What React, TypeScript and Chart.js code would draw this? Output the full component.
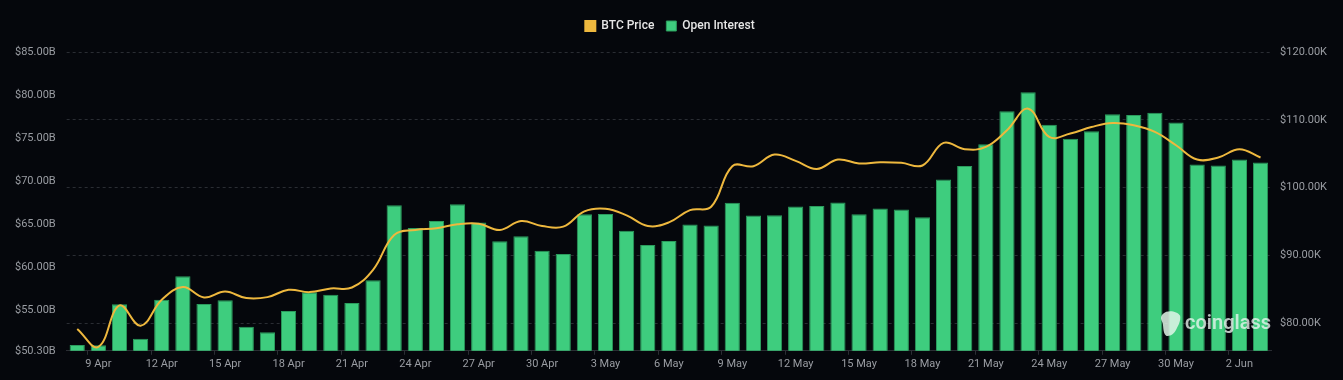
import React, { useEffect, useRef } from "react";
import { Chart, registerables } from "chart.js";

Chart.register(...registerables);

const dates = [
  "8 Apr", "9 Apr", "10 Apr", "11 Apr", "12 Apr", "13 Apr", "14 Apr", "15 Apr", "16 Apr", "17 Apr",
  "18 Apr", "19 Apr", "20 Apr", "21 Apr", "22 Apr", "23 Apr", "24 Apr", "25 Apr", "26 Apr", "27 Apr",
  "28 Apr", "29 Apr", "30 Apr", "1 May", "2 May", "3 May", "4 May", "5 May", "6 May", "7 May",
  "8 May", "9 May", "10 May", "11 May", "12 May", "13 May", "14 May", "15 May", "16 May", "17 May",
  "18 May", "19 May", "20 May", "21 May", "22 May", "23 May", "24 May", "25 May", "26 May", "27 May",
  "28 May", "29 May", "30 May", "31 May", "1 Jun", "2 Jun", "3 Jun",
];

// Open Interest, billions USD
const openInterest = [
  50.96, 50.95, 55.7, 51.7, 56.24, 58.95, 55.74, 56.17, 53.08, 52.46,
  54.93, 57.1, 56.82, 55.86, 58.49, 67.21, 64.55, 65.36, 67.33, 65.21,
  63.01, 63.59, 61.92, 61.53, 66.17, 66.2, 64.24, 62.58, 63.04, 64.97,
  64.86, 67.48, 66.02, 66.05, 67.06, 67.13, 67.52, 66.17, 66.83, 66.71,
  65.82, 70.19, 71.77, 74.28, 78.11, 80.34, 76.56, 74.94, 75.79, 77.76,
  77.68, 77.95, 76.8, 71.93, 71.81, 72.51, 72.16,
];

// BTC price, thousands USD
const btcPrice = [
  79.12, 76.47, 82.59, 79.6, 83.43, 85.3, 83.77, 84.65, 83.68, 83.82,
  84.9, 84.56, 85.1, 85.24, 87.84, 93.0, 93.73, 93.98, 94.57, 94.66,
  93.73, 95.06, 94.32, 94.22, 96.48, 96.87, 95.89, 94.32, 94.86, 96.67,
  97.16, 103.15, 103.15, 104.87, 103.93, 102.75, 104.13, 103.55, 103.74, 103.64,
  103.25, 106.58, 105.65, 105.99, 108.45, 111.64, 107.46, 107.96, 108.93, 109.52,
  109.18, 108.2, 106.24, 104.13, 104.43, 105.65, 104.43,
];

const oiAxis = { min: 50.3, max: 85, step: 5 };
const priceAxis = { min: 75.9, max: 120, step: 10 };

const BG = "#05070c";
const GREEN = "#3ecd7e";
const GREEN_BORDER = "#2b9c5d";
const YELLOW = "#eeb83e";
const GRID = "#2a2d33";
const TICK = "#9a9da3";
const FONT = "Roboto, 'Noto Sans', sans-serif";

const legendSpace = {
  id: "legendSpace",
  beforeInit(chart: any) {
    const legend = chart.legend;
    if (!legend) return;
    const origFit = legend.fit;
    legend.fit = function () {
      origFit.call(this);
      this.height += 10;
    };
  },
};

const watermark = {
  id: "watermark",
  afterDraw(chart: any) {
    const { ctx, chartArea } = chart;
    ctx.save();
    const tx = chartArea.right;
    const ty = chartArea.bottom - 27;
    ctx.font = `600 20px ${FONT}`;
    ctx.fillStyle = "rgba(235,245,240,0.78)";
    ctx.textAlign = "right";
    ctx.textBaseline = "middle";
    ctx.fillText("coinglass", tx, ty);
    const w = ctx.measureText("coinglass").width;
    const lx = tx - w - 14;
    const ly = ty;
    ctx.beginPath();
    ctx.moveTo(lx - 8, ly - 10);
    ctx.bezierCurveTo(lx - 4, ly - 14, lx + 6, ly - 13, lx + 9, ly - 8);
    ctx.bezierCurveTo(lx + 10, ly - 3, lx + 7, ly + 2, lx + 5, ly + 6);
    ctx.bezierCurveTo(lx + 3, ly + 10, lx - 1, ly + 13, lx - 5, ly + 12);
    ctx.bezierCurveTo(lx - 9, ly + 8, lx - 7, ly + 2, lx - 9, ly - 2);
    ctx.bezierCurveTo(lx - 11, ly - 6, lx - 10, ly - 8, lx - 8, ly - 10);
    ctx.closePath();
    ctx.fillStyle = "rgba(225,245,232,0.85)";
    ctx.fill();
    ctx.restore();
  },
};

export default function App() {
  const ref = useRef<HTMLCanvasElement>(null);

  useEffect(() => {
    document.body.style.margin = "0";
    document.body.style.background = BG;
    const chart = new Chart(ref.current as HTMLCanvasElement, {
      type: "bar",
      data: {
        labels: dates,
        datasets: [
          {
            type: "line",
            label: "BTC Price",
            data: btcPrice,
            yAxisID: "yPrice",
            borderColor: YELLOW,
            backgroundColor: YELLOW,
            borderWidth: 2,
            pointRadius: 0,
            tension: 0.4,
            order: 0,
          } as any,
          {
            type: "bar",
            label: "Open Interest",
            data: openInterest,
            yAxisID: "yOI",
            backgroundColor: GREEN,
            borderColor: GREEN_BORDER,
            borderWidth: 1,
            order: 1,
          } as any,
        ],
      },
      options: {
        responsive: false,
        animation: false,
        layout: { padding: { left: 4, right: 7, top: 8, bottom: 6 } },
        plugins: {
          legend: {
            position: "top",
            align: "center",
            labels: {
              boxWidth: 10,
              boxHeight: 10,
              padding: 12,
              color: "#e6e6e6",
              font: { family: FONT, size: 12, weight: "500" },
            },
          },
          tooltip: { enabled: false },
        },
        scales: {
          x: {
            grid: {
              drawOnChartArea: false,
              drawTicks: true,
              tickLength: 4,
              offset: true,
              color: (c: any) => (c.index % 3 === 1 ? GRID : "rgba(0,0,0,0)"),
            },
            border: { display: true, color: GRID },
            ticks: {
              autoSkip: false,
              maxRotation: 0,
              padding: 3,
              color: TICK,
              font: { family: FONT, size: 11 },
              callback: (_v: any, i: number) => (i % 3 === 1 ? dates[i] : ""),
            },
          },
          yOI: {
            type: "linear",
            position: "left",
            min: oiAxis.min,
            max: oiAxis.max,
            grid: { display: false, drawTicks: false },
            border: { display: false },
            ticks: {
              stepSize: oiAxis.step,
              padding: 11,
              color: TICK,
              font: { family: FONT, size: 11 },
              callback: (v: any) => "$" + Number(v).toFixed(2) + "B",
            },
          },
          yPrice: {
            type: "linear",
            position: "right",
            min: priceAxis.min,
            max: priceAxis.max,
            grid: { color: GRID, drawTicks: false },
            border: { display: false, dash: [3, 3] },
            afterBuildTicks: (s: any) => {
              s.ticks = s.ticks.filter((t: any) => Math.abs(t.value % priceAxis.step) < 1e-6);
            },
            ticks: {
              stepSize: priceAxis.step,
              padding: 9,
              color: TICK,
              font: { family: FONT, size: 11 },
              callback: (v: any) => "$" + Number(v).toFixed(2) + "K",
            },
          },
        },
      },
      plugins: [legendSpace, watermark],
    });
    return () => chart.destroy();
  }, []);

  return (
    <div style={{ width: 1343, height: 380, background: BG }}>
      <canvas ref={ref} width={1343} height={380} style={{ display: "block" }} />
    </div>
  );
}
